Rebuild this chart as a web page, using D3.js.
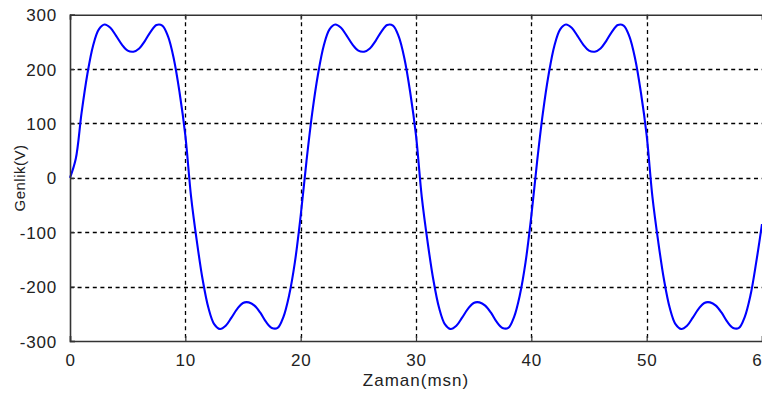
<!DOCTYPE html>
<html>
<head>
<meta charset="utf-8">
<script src="https://cdn.jsdelivr.net/npm/d3@7"></script>
<style>
  html, body { margin: 0; padding: 0; background: #fff; }
  svg { display: block; }
  text { font-family: "Liberation Sans", Arial, sans-serif; fill: #222; }
</style>
</head>
<body>
<svg id="chart" width="762" height="397"></svg>
<script>
// ---- data ----
const xTicks = [0, 10, 20, 30, 40, 50, 60];
const yTicks = [-300, -200, -100, 0, 100, 200, 300];
const xLabel = "Zaman(msn)";
const yLabel = "Genlik(V)";
const sampleStep = 0.5; // ms between readings

// t = 0 ... 19.5 ms
const voltsP1 = [0, 35, 119, 190, 243, 273, 282, 276, 261, 245, 234, 232, 238, 252, 269, 281, 280, 260, 219, 157, 78,
  -35, -117, -187, -239, -269, -278, -272, -257, -241, -230, -229, -235, -248, -265, -276, -276, -256, -216, -155];
// t = 20 ... 39.5 ms
const voltsP2 = [-70, 30, 119, 190, 243, 273, 282, 276, 261, 245, 234, 232, 238, 252, 269, 281, 280, 260, 219, 157, 78,
  -35, -117, -187, -239, -269, -278, -272, -257, -241, -230, -229, -235, -248, -265, -276, -276, -256, -216, -155];
// t = 40 ... 60 ms
const voltsP3 = [-70, 30, 119, 190, 243, 273, 282, 276, 261, 245, 234, 232, 238, 252, 269, 281, 280, 260, 219, 157, 78,
  -35, -117, -187, -239, -269, -278, -272, -257, -241, -230, -229, -235, -248, -265, -276, -276, -256, -216, -155, -85];

const volts = voltsP1.concat(voltsP2, voltsP3);
const data = volts.map((v, i) => ({ t: i * sampleStep, v }));

// ---- layout ----
const svg = d3.select("#chart");
const padL = 70, padR = 762, padT = 14.7, padB = 341;

const x = d3.scaleLinear().domain([0, 60]).range([padL, padR]);
const y = d3.scaleLinear().domain([-300, 300]).range([padB, padT]);

// grid
const grid = svg.append("g").attr("stroke", "#000").attr("stroke-width", 1.3)
  .attr("stroke-dasharray", "4,3.6").attr("fill", "none");
grid.selectAll("line.v").data(xTicks.filter(d => d > 0 && d < 60)).join("line")
  .attr("class", "v")
  .attr("x1", d => Math.round(x(d)) + 0.5).attr("x2", d => Math.round(x(d)) + 0.5)
  .attr("y1", padT).attr("y2", padB);
grid.selectAll("line.h").data(yTicks.filter(d => d > -300 && d < 300)).join("line")
  .attr("class", "h")
  .attr("y1", d => Math.round(y(d)) + 0.5).attr("y2", d => Math.round(y(d)) + 0.5)
  .attr("x1", padL).attr("x2", padR);

// signal
const line = d3.line().x(d => x(d.t)).y(d => y(d.v)).curve(d3.curveCatmullRom.alpha(0.5));
svg.append("path").datum(data)
  .attr("fill", "none").attr("stroke", "#0000ff").attr("stroke-width", 2.1)
  .attr("stroke-linejoin", "round").attr("d", line);

// axes
const fontSize = "17px";
const fmt = d => String(d);
const yAxis = d3.axisLeft(y).tickValues(yTicks).tickSize(-5).tickPadding(13).tickFormat(fmt);
const gy = svg.append("g").attr("transform", `translate(${padL},0)`).call(yAxis);
const xAxis = d3.axisBottom(x).tickValues(xTicks).tickSize(-5).tickPadding(13).tickFormat(fmt);
const gx = svg.append("g").attr("transform", `translate(0,${padB})`).call(xAxis);
const xAxisTop = d3.axisTop(x).tickValues(xTicks).tickSize(-5).tickFormat("");
const gt = svg.append("g").attr("transform", `translate(0,${padT})`).call(xAxisTop);

[gy, gx, gt].forEach(g => {
  g.select(".domain").attr("stroke", "#333").attr("stroke-width", 1.6);
  g.selectAll(".tick line").attr("stroke", "#333").attr("stroke-width", 1.2);
  g.selectAll(".tick text").attr("font-family", "Liberation Sans, Arial, sans-serif")
    .attr("font-size", fontSize).attr("fill", "#222").attr("letter-spacing", "0.8px");
});
gy.selectAll(".tick text").attr("dy", "0.36em");

// axis titles
svg.append("text").attr("x", 416).attr("y", 386).attr("text-anchor", "middle")
  .attr("font-size", fontSize).attr("letter-spacing", "1px").text(xLabel);
svg.append("text").attr("transform", "translate(25,178) rotate(-90)").attr("text-anchor", "middle")
  .attr("font-size", "15px").attr("letter-spacing", "0.5px").text(yLabel);
</script>
</body>
</html>
